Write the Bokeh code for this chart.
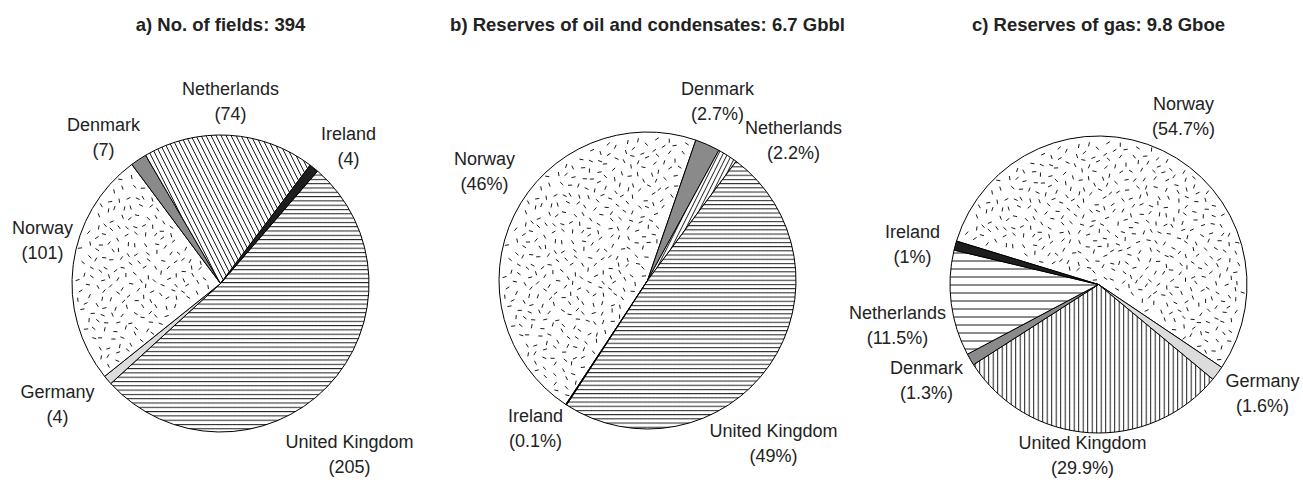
import numpy as np
from bokeh.plotting import figure
from bokeh.models import ColumnDataSource, Range1d
from bokeh.embed import file_html
from bokeh.resources import INLINE
from bokeh.core.properties import value

# ---------------- data ----------------
titles = ["a) No. of fields: 394",
          "b) Reserves of oil and condensates: 6.7 Gbbl",
          "c) Reserves of gas: 9.8 Gboe"]

a_countries = ["United Kingdom", "Germany", "Norway", "Denmark", "Netherlands", "Ireland"]
a_values = [205, 4, 101, 7, 74, 4]

b_countries = ["Norway", "Denmark", "Netherlands", "United Kingdom", "Ireland"]
b_values = [46, 2.7, 2.2, 49, 0.1]

c_countries = ["Norway", "Germany", "United Kingdom", "Denmark", "Netherlands", "Ireland"]
c_values = [54.7, 1.6, 29.9, 1.3, 11.5, 1]

a_fmt = "({:g})"
b_fmt = "({:g}%)"
c_fmt = "({:g}%)"

# ---------------- layout / style ----------------
W, H = 1300, 480
R = 148.5
FONT = value("Liberation Sans")
TXT = "#222222"


def px(X, Y):
    """page pixel -> data coordinate"""
    return X, H - Y


centers = [(220, 283), (647, 280), (1098, 284)]
start_bearing = [40.8, 213.4, 287.0]

label_off = [
    {"United Kingdom": (129, 171), "Germany": (-163, 121), "Norway": (-178, -43),
     "Denmark": (-117, -146), "Netherlands": (10, -182), "Ireland": (128, -137)},
    {"Norway": (-163, -109), "Denmark": (70, -179), "Netherlands": (146, -140),
     "United Kingdom": (126, 163), "Ireland": (-112, 148)},
    {"Norway": (85, -168), "Germany": (164, 109), "United Kingdom": (-16, 171),
     "Denmark": (-172, 96), "Netherlands": (-201, 41), "Ireland": (-186, -40)},
]

fills = {"Denmark": "#8a8a8a", "Ireland": "#1e1e1e", "Germany": "#dcdcdc"}
hatches = [
    {"United Kingdom": ("-", 4.3), "Netherlands": ("\\", 10.0)},
    {"United Kingdom": ("-", 4.2), "Netherlands": ("/", 9.0)},
    {"United Kingdom": ("|", 4.5), "Netherlands": ("-", 8.0)},
]

p = figure(width=W, height=H, x_range=Range1d(0, W), y_range=Range1d(0, H),
           toolbar_location=None, output_backend="svg", min_border=0,
           x_axis_type=None, y_axis_type=None)
p.grid.visible = False
p.outline_line_color = None

charts = [(a_countries, a_values, a_fmt),
          (b_countries, b_values, b_fmt),
          (c_countries, c_values, c_fmt)]


def stipple(cx, cy, b0, b1, n_total=800):
    """deterministic (quasi-uniform) texture of short dashes inside a wedge"""
    k = np.arange(n_total)
    golden = np.pi * (3 - np.sqrt(5))
    r = (R - 4) * np.sqrt((k + 0.5) / n_total)
    th = k * golden
    jx = ((k * k * 0.7548776662) % 1.0 - 0.5) * 4.0
    jy = ((k * k * 0.5698402910) % 1.0 - 0.5) * 4.0
    x = r * np.cos(th) + jx
    y = r * np.sin(th) + jy
    rr = np.hypot(x, y)
    bearing = (90 - np.degrees(np.arctan2(y, x))) % 360
    rel = (bearing - b0) % 360
    span = b1 - b0
    d0 = rr * np.sin(np.radians(np.minimum(rel, 90)))
    d1 = rr * np.sin(np.radians(np.minimum(np.abs(span - rel), 90)))
    m = (rel < span) & (d0 > 3) & (d1 > 3) & (rr < R - 3)
    ang = ((k * k * 0.6180339887 + k * 0.4142135) % 1.0) * np.pi
    return cx + x[m], cy + y[m], ang[m]


for i, (countries, vals, fmt) in enumerate(charts):
    cx, cy = px(*centers[i])
    v = np.array(vals, dtype=float)
    frac = v / v.sum() * 360.0
    b_end = start_bearing[i] + np.cumsum(frac)
    b_start = b_end - frac
    start = np.radians(90.0 - b_end)
    end = np.radians(90.0 - b_start)

    hp = [hatches[i].get(c, (" ", 10))[0] for c in countries]
    hs = [hatches[i].get(c, (" ", 10))[1] for c in countries]
    src = ColumnDataSource(dict(
        start=start, end=end,
        fill=[fills.get(c, "white") for c in countries],
        hp=hp, hs=hs,
        x=[cx] * len(countries), y=[cy] * len(countries)))
    p.wedge(x="x", y="y", radius=R, start_angle="start", end_angle="end",
            source=src, fill_color="fill", line_color="black", line_width=1,
            hatch_pattern="hp", hatch_scale="hs", hatch_color="black",
            hatch_weight=0.9)

    # Norway stipple texture
    k = countries.index("Norway")
    sx, sy, sa = stipple(cx, cy, b_start[k], b_end[k])
    p.scatter(x=sx, y=sy, angle=sa, marker="dash", size=4.2,
              line_color="black", line_width=0.9)

    # labels
    lx, ly, lt = [], [], []
    for c, val in zip(countries, vals):
        dx, dy = label_off[i][c]
        X, Y = px(centers[i][0] + dx, centers[i][1] + dy)
        lx.append(X)
        ly.append(Y)
        lt.append(c + "\n" + fmt.format(val))
    p.text(x=lx, y=ly, text=lt, text_align="center", text_baseline="middle",
           text_font=FONT, text_font_size="18px", text_color=TXT,
           text_line_height=1.28)

    # title
    tx, ty = px(centers[i][0], 24)
    p.text(x=[tx], y=[ty], text=[titles[i]], text_align="center",
           text_baseline="alphabetic", text_font=FONT, text_font_size="18.5px",
           text_font_style="bold", text_color=TXT)

open("out.html", "w").write(file_html(p, INLINE))
